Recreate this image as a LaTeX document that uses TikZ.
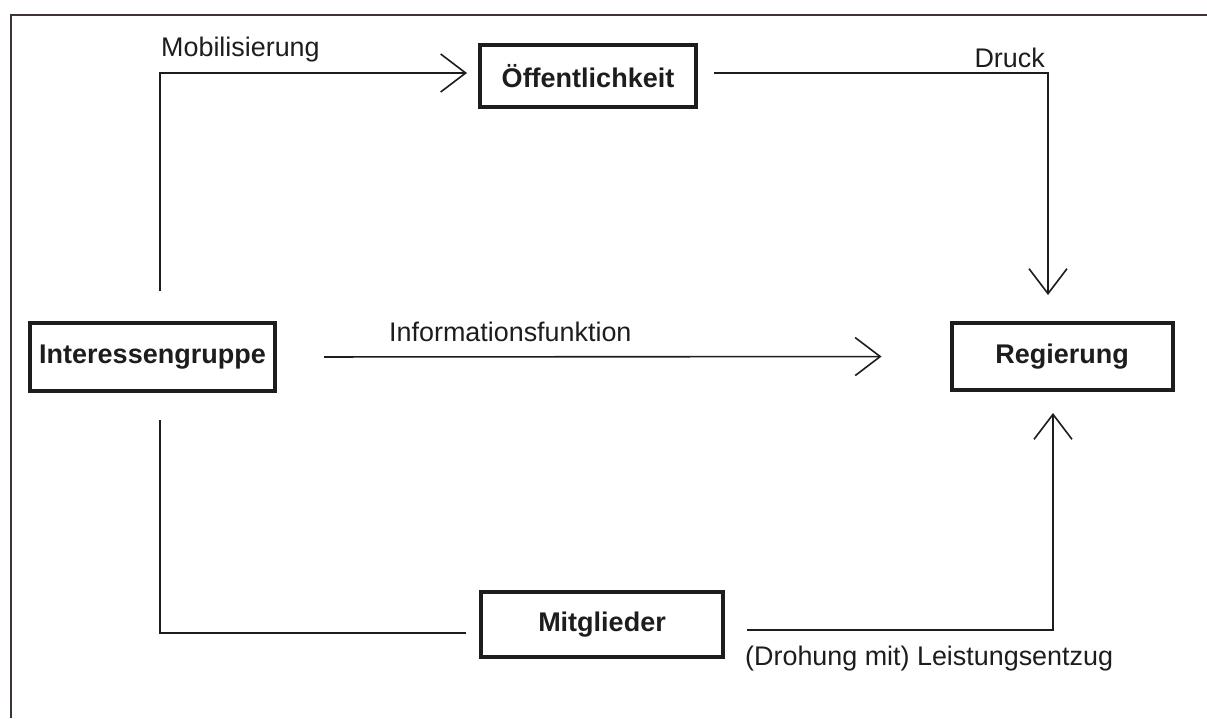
\documentclass[tikz,border=0pt]{standalone}
\usepackage{fontspec}
\setmainfont{Liberation Sans}
\usetikzlibrary{arrows.meta}
\definecolor{framecol}{RGB}{62,52,52}
\definecolor{inkcol}{RGB}{30,28,28}
\begin{document}
\begin{tikzpicture}[x=1pt,y=-1pt,
  box/.style={draw=inkcol, line width=4pt, font=\fontsize{27}{30}\selectfont\bfseries, text=inkcol, inner sep=0pt, anchor=center},
  lbl/.style={font=\fontsize{26.9}{30}\selectfont, text=inkcol, inner sep=0pt},
  conn/.style={line width=1.6pt, draw=inkcol},
  arr/.style={conn, -{Straight Barb[length=25pt,width=38pt,line width=1.6pt]}}]
\useasboundingbox (0,0) rectangle (1207,718);
\draw[line width=2pt, draw=framecol] (11,718) -- (11,15) -- (1207,15);

\node[box, minimum width=216pt, minimum height=62pt] (oef) at (588,76) {Öffentlichkeit};
\node[box, minimum width=245pt, minimum height=68pt] (ig) at (152.5,357) {Interessengruppe};
\node[box, minimum width=221pt, minimum height=67pt] (reg) at (1062,356.5) {Regierung};
\node[box, minimum width=242pt, minimum height=65pt] (mit) at (602,624.5) {Mitglieder};

\coordinate (c1) at (160,73);
\coordinate (c2) at (1048,73);
\coordinate (c3) at (160,633);
\coordinate (c4) at (1053,630);

\draw[arr, shorten <=30pt, shorten >=11pt] (ig.north -| c1) -- (c1) -- (oef.west |- c1);
\draw[arr, shorten <=16pt, shorten >=26pt] (oef.east |- c2) -- (c2) -- (reg.north -| c2);
\draw[arr, shorten <=47pt, shorten >=68pt] (ig.east) -- (reg.west);
\draw[conn, shorten <=27pt, shorten >=13pt] (ig.south -| c3) -- (c3) -- (mit.west |- c3);
\draw[arr, shorten <=22pt, shorten >=21pt] (mit.east |- c4) -- (c4) -- (reg.south -| c4);

\node[lbl, anchor=base west] (lmob) at (161,56) {Mobilisierung};
\node[lbl, anchor=base east] (ldr) at (1045,67) {Druck};
\node[lbl, anchor=base west] (linf) at (389,341) {Informationsfunktion};
\node[lbl, anchor=base west] (lle) at (745,665) {(Drohung mit) Leistungsentzug};
\end{tikzpicture}
\end{document}
